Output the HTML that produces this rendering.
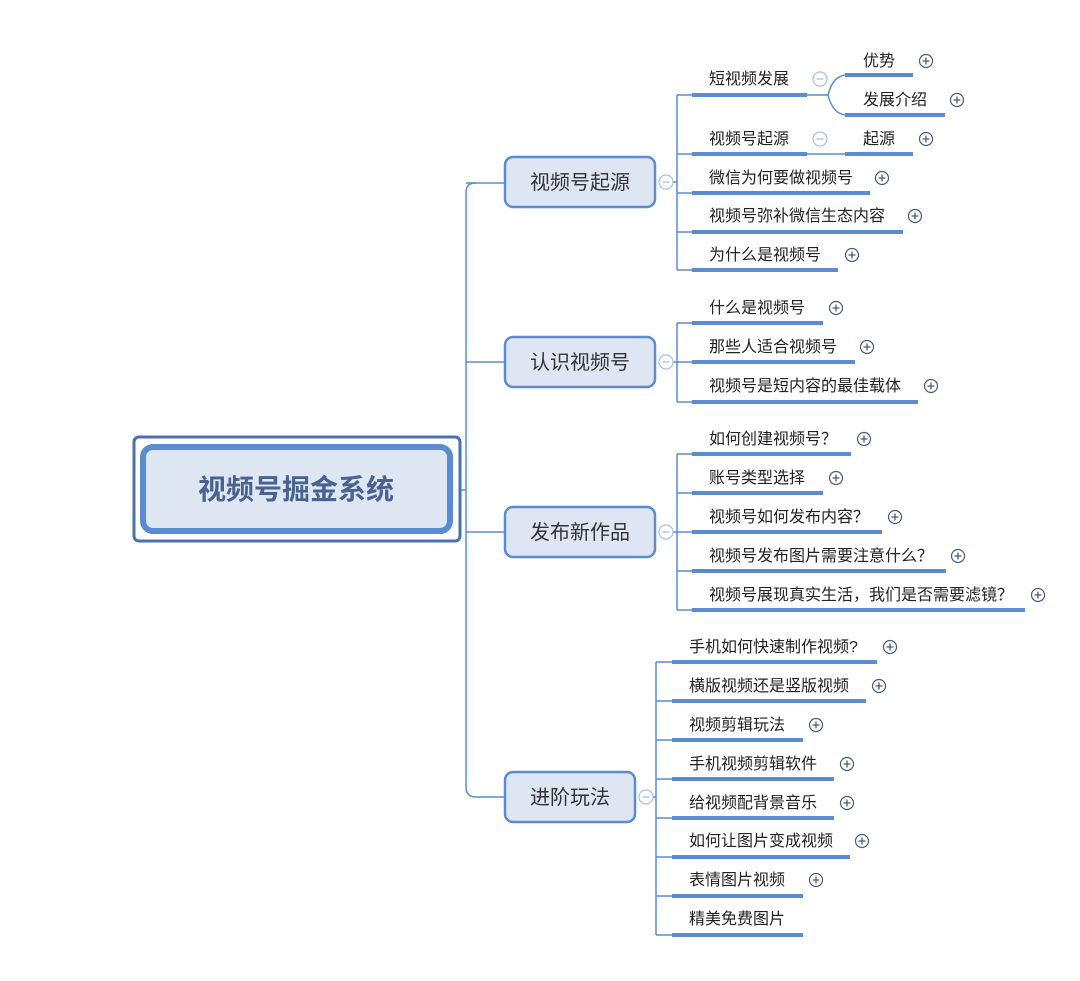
<!DOCTYPE html>
<html><head><meta charset="utf-8"><style>
html,body{margin:0;padding:0;background:#fff;}
svg{display:block;}
text{font-family:"Liberation Sans","Noto Sans CJK SC",sans-serif;}
.t{font-size:16px;fill:#222;}
.b{font-size:20px;fill:#333;}
.bar{stroke:#5b8bd0;stroke-width:4;}
.ln{stroke:#5b8bd0;stroke-width:1.5;fill:none;}
.nb{fill:#dde6f2;stroke:#5b8bd0;stroke-width:2.5;}
.plus circle{fill:#fff;stroke:#4a5a78;stroke-width:1.2;}
.plus path{stroke:#4a5a78;stroke-width:1.3;}
.minus circle{fill:#fff;stroke:#aabfe2;stroke-width:1.2;}
.minus path{stroke:#aabfe2;stroke-width:1.3;}
</style></head><body>
<svg width="1080" height="981" viewBox="0 0 1080 981" xmlns="http://www.w3.org/2000/svg">
<defs>
<g id="p" class="plus"><circle r="6.5"/><path d="M-3.5 0H3.5M0 -3.5V3.5"/></g>
<g id="m" class="minus"><circle r="7"/><path d="M-3.5 0H3.5"/></g>
</defs>
<path class="ln" d="M476 183H475Q466 183 466 193V787Q466 797 476 797H505"/>
<path class="ln" d="M466 183H505M466 362H505M466 532H505M452 490H466"/>
<rect x="134" y="437" width="326" height="104" rx="5" fill="#fff" stroke="#4a72b0" stroke-width="3"/>
<rect x="143" y="447" width="307" height="84" rx="10" fill="#dde6f2" stroke="#5b8bd0" stroke-width="6"/>
<text x="296" y="499" text-anchor="middle" style="font-size:28px;fill:#4a6290;font-weight:bold">视频号掘金系统</text>
<rect class="nb" x="505" y="157" width="150" height="50" rx="8"/><text class="b" x="580" y="189" text-anchor="middle">视频号起源</text>
<rect class="nb" x="505" y="337" width="150" height="50" rx="8"/><text class="b" x="580" y="369" text-anchor="middle">认识视频号</text>
<rect class="nb" x="505" y="507" width="150" height="50" rx="8"/><text class="b" x="580" y="539" text-anchor="middle">发布新作品</text>
<rect class="nb" x="505" y="772" width="130" height="50" rx="8"/><text class="b" x="570" y="804" text-anchor="middle">进阶玩法</text>
<path class="ln" d="M673 182H677M677 95V270M677 95H692M677 154H692M677 193H692M677 232H692M677 270H692"/>
<use href="#m" x="666" y="182"/>
<line class="bar" x1="692" y1="95" x2="807" y2="95"/><text class="t" x="709" y="84">短视频发展</text>
<use href="#m" x="820" y="79"/>
<path class="ln" d="M807 95H828M828 95Q833 75 847 75M828 95Q833 115 847 115"/>
<line class="bar" x1="845" y1="75" x2="913" y2="75"/><text class="t" x="863" y="66">优势</text><use href="#p" x="926" y="61"/>
<line class="bar" x1="845" y1="115" x2="945" y2="115"/><text class="t" x="863" y="105">发展介绍</text><use href="#p" x="957" y="100"/>
<line class="bar" x1="692" y1="154" x2="807" y2="154"/><text class="t" x="709" y="144">视频号起源</text>
<use href="#m" x="820" y="139"/>
<path class="ln" d="M807 154H845"/>
<line class="bar" x1="845" y1="154" x2="913" y2="154"/><text class="t" x="863" y="144">起源</text><use href="#p" x="926" y="139"/>
<line class="bar" x1="692" y1="193" x2="870" y2="193"/><text class="t" x="709" y="183">微信为何要做视频号</text><use href="#p" x="882" y="178"/>
<line class="bar" x1="692" y1="232" x2="903" y2="232"/><text class="t" x="709" y="221">视频号弥补微信生态内容</text><use href="#p" x="915" y="216"/>
<line class="bar" x1="692" y1="270" x2="838" y2="270"/><text class="t" x="709" y="260">为什么是视频号</text><use href="#p" x="852" y="255"/>
<path class="ln" d="M673 362H677M677 323V402M677 323H692M677 362H692M677 402H692"/>
<use href="#m" x="666" y="362"/>
<line class="bar" x1="692" y1="323" x2="823" y2="323"/><text class="t" x="709" y="313">什么是视频号</text><use href="#p" x="836" y="308"/>
<line class="bar" x1="692" y1="362" x2="855" y2="362"/><text class="t" x="709" y="352">那些人适合视频号</text><use href="#p" x="867" y="347"/>
<line class="bar" x1="692" y1="402" x2="918" y2="402"/><text class="t" x="709" y="391">视频号是短内容的最佳载体</text><use href="#p" x="931" y="386"/>
<path class="ln" d="M673 532H677M677 454V610M677 454H692M677 493H692M677 532H692M677 571H692M677 610H692"/>
<use href="#m" x="666" y="532"/>
<line class="bar" x1="692" y1="454" x2="851" y2="454"/><text class="t" x="709" y="444">如何创建视频号？</text><use href="#p" x="864" y="439"/>
<line class="bar" x1="692" y1="493" x2="823" y2="493"/><text class="t" x="709" y="483">账号类型选择</text><use href="#p" x="836" y="478"/>
<line class="bar" x1="692" y1="532" x2="882" y2="532"/><text class="t" x="709" y="522">视频号如何发布内容？</text><use href="#p" x="895" y="517"/>
<line class="bar" x1="692" y1="571" x2="946" y2="571"/><text class="t" x="709" y="561">视频号发布图片需要注意什么？</text><use href="#p" x="958" y="556"/>
<line class="bar" x1="692" y1="610" x2="1025" y2="610"/><text class="t" x="709" y="600">视频号展现真实生活，我们是否需要滤镜？</text><use href="#p" x="1038" y="595"/>
<path class="ln" d="M653 797H656M656 662V935M656 662H672M656 701H672M656 740H672M656 779H672M656 818H672M656 857H672M656 896H672M656 935H672"/>
<use href="#m" x="646" y="797"/>
<line class="bar" x1="672" y1="662" x2="877" y2="662"/><text class="t" x="689" y="652">手机如何快速制作视频?</text><use href="#p" x="890" y="647"/>
<line class="bar" x1="672" y1="701" x2="866" y2="701"/><text class="t" x="689" y="691">横版视频还是竖版视频</text><use href="#p" x="879" y="686"/>
<line class="bar" x1="672" y1="740" x2="803" y2="740"/><text class="t" x="689" y="730">视频剪辑玩法</text><use href="#p" x="816" y="725"/>
<line class="bar" x1="672" y1="779" x2="834" y2="779"/><text class="t" x="689" y="769">手机视频剪辑软件</text><use href="#p" x="847" y="764"/>
<line class="bar" x1="672" y1="818" x2="834" y2="818"/><text class="t" x="689" y="808">给视频配背景音乐</text><use href="#p" x="847" y="803"/>
<line class="bar" x1="672" y1="857" x2="850" y2="857"/><text class="t" x="689" y="846">如何让图片变成视频</text><use href="#p" x="862" y="841"/>
<line class="bar" x1="672" y1="896" x2="803" y2="896"/><text class="t" x="689" y="885">表情图片视频</text><use href="#p" x="816" y="880"/>
<line class="bar" x1="672" y1="935" x2="803" y2="935"/><text class="t" x="689" y="924">精美免费图片</text>
</svg>
</body></html>
